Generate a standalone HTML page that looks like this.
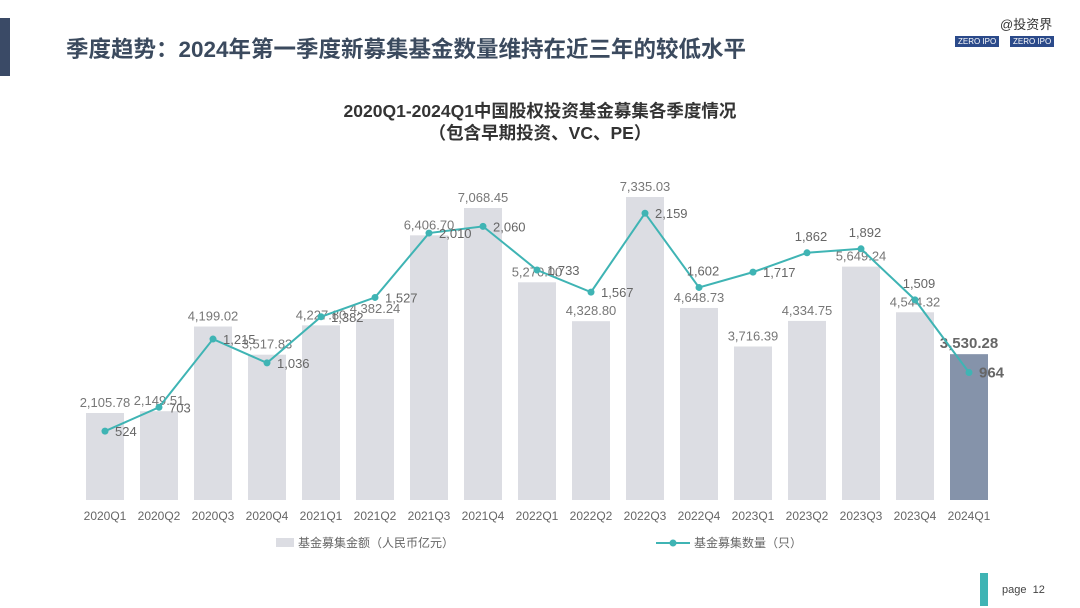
<!DOCTYPE html>
<html><head><meta charset="utf-8"><style>
body{margin:0;width:1080px;height:608px;background:#fff;overflow:hidden;font-family:"Liberation Sans","Noto Sans CJK SC",sans-serif;position:relative}
.hdr{position:absolute;left:0;top:18px;width:10px;height:58px;background:#3a4a66}
.title{position:absolute;left:66px;top:32px;font-size:22.5px;font-weight:bold;color:#3b4a5e}
.logo{position:absolute;top:36px;font-size:8px;color:#fff;background:#2b4a8a;padding:1px 3px}
</style></head><body>
<div class="hdr"></div>
<div class="title">季度趋势：2024年第一季度新募集基金数量维持在近三年的较低水平</div>
<div style="position:absolute;left:1000px;top:14px;font-size:13px;color:#333">@投资界</div>
<div class="logo" style="left:955px">ZERO IPO</div>
<div class="logo" style="left:1010px">ZERO IPO</div>
<div style="position:absolute;left:980px;top:573px;width:8px;height:33px;background:#3fb4b4"></div>
<div style="position:absolute;left:1002px;top:584px;font-size:11px;color:#444">page &nbsp;12</div>
<svg id="c" width="1080" height="608" style="position:absolute;left:0;top:0">
<text x="540" y="117" text-anchor="middle" font-size="17.5" font-weight="bold" fill="#333">2020Q1-2024Q1中国股权投资基金募集各季度情况</text>
<text x="540" y="139" text-anchor="middle" font-size="17.5" font-weight="bold" fill="#333">（包含早期投资、VC、PE）</text>
</svg>
<script>
const categories=["2020Q1","2020Q2","2020Q3","2020Q4","2021Q1","2021Q2","2021Q3","2021Q4","2022Q1","2022Q2","2022Q3","2022Q4","2023Q1","2023Q2","2023Q3","2023Q4","2024Q1"];
const amounts=[2105.78,2149.51,4199.02,3517.83,4227.80,4382.24,6406.70,7068.45,5270.00,4328.80,7335.03,4648.73,3716.39,4334.75,5649.24,4544.32,3530.28];
const counts=[524,703,1215,1036,1382,1527,2010,2060,1733,1567,2159,1602,1717,1862,1892,1509,964];
const svg=document.getElementById('c');const NS='http://www.w3.org/2000/svg';
const x=i=>105+i*54;const yb=v=>500-v*0.04131;const yl=v=>501-v*0.1333;
function mk(t,a,txt){const e=document.createElementNS(NS,t);for(const k in a)e.setAttribute(k,a[k]);if(txt!=null)e.textContent=txt;svg.appendChild(e);return e;}
const fmt=v=>v.toLocaleString('en-US',{minimumFractionDigits:2,maximumFractionDigits:2});
const last=categories.length-1;
categories.forEach((c,i)=>{
 const b=mk('rect',{x:x(i)-19,y:yb(amounts[i]),width:38,height:500-yb(amounts[i]),fill:i==last?'#8593aa':'#dcdde3'});
 
 
 const t=mk('text',{x:x(i),y:yb(amounts[i])-6,'text-anchor':'middle','font-size':i==last?15:13,'font-weight':i==last?'bold':'normal',fill:i==last?'#666':'#777'},fmt(amounts[i]));
 
 
 const l=mk('text',{x:x(i),y:520,'text-anchor':'middle','font-size':12,fill:'#666'},c);
 
 
});
const p=mk('polyline',{points:counts.map((v,i)=>x(i)+','+yl(v)).join(' '),fill:'none',stroke:'#3fb4b4','stroke-width':2});


const above=[11,13,14,15];
counts.forEach((v,i)=>{
 const d=mk('circle',{cx:x(i),cy:yl(v),r:3.5,fill:'#3fb4b4'});
 
 
 const up=above.includes(i);
 const t=mk('text',{x:up?x(i)+4:x(i)+10,y:up?yl(v)-12:yl(v)+5,'text-anchor':up?'middle':'start','font-size':i==last?15:13,'font-weight':i==last?'bold':'normal',fill:'#666'},v.toLocaleString('en-US'));
 
 
});
const lg1=mk('rect',{x:276,y:538,width:18,height:9,fill:'#dcdde3'});


const lt1=mk('text',{x:298,y:547,'font-size':12,fill:'#666'},'基金募集金额（人民币亿元）');


const lg2=mk('line',{x1:656,y1:543,x2:690,y2:543,stroke:'#3fb4b4','stroke-width':2});


const lc=mk('circle',{cx:673,cy:543,r:3.5,fill:'#3fb4b4'});


const lt2=mk('text',{x:694,y:547,'font-size':12,fill:'#666'},'基金募集数量（只）');


</script>
</body></html>
